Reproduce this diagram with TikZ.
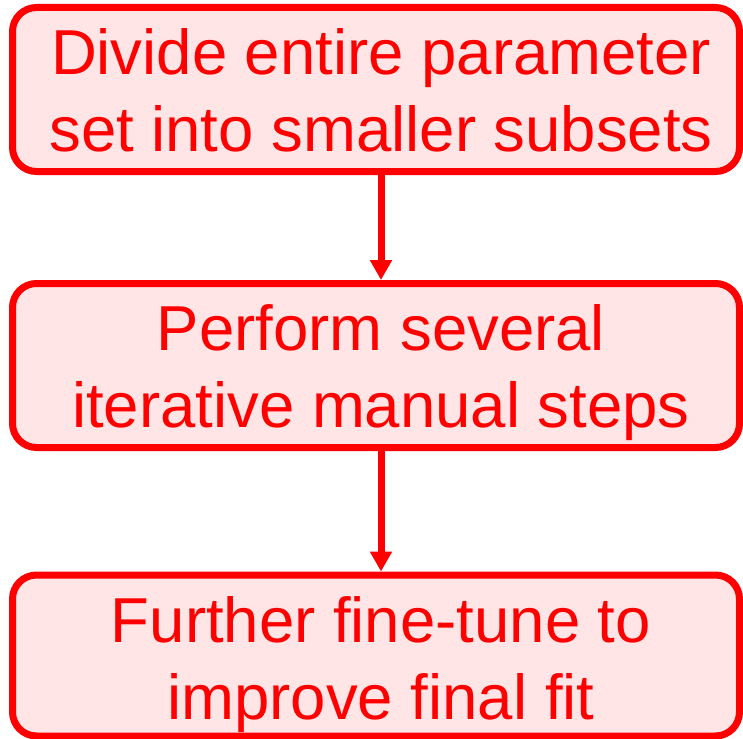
\documentclass[tikz,border=0pt]{standalone}
\usepackage{fontspec}
\setmainfont{Liberation Sans}
\usetikzlibrary{arrows.meta}

\definecolor{stagered}{RGB}{255,0,0}
\definecolor{stagefill}{RGB}{255,229,229}

\begin{document}
\begin{tikzpicture}[
  x=1pt,y=-1pt,
  >={Triangle[width=21pt,length=20pt]},
  stage box/.style={rectangle,rounded corners=24pt,draw=stagered,line width=7pt,fill=stagefill,minimum width=727pt,minimum height=164pt,inner sep=0pt},
  stage text/.style={text=stagered,align=center,inner sep=0pt,font=\fontsize{63.5}{77}\selectfont},
  stage arrow/.style={->,draw=stagered,line width=7pt},
]
\useasboundingbox (0,0) rectangle (743,738);
\node[stage box] (b1) at (376,89.5) {};
\node[stage box] (b2) at (376,365.5) {};
\node[stage box,minimum height=161pt] (b3) at (376,655.5) {};
\node[stage text] (t1) at (381,97.6) {Divide entire parameter\strut\\set into smaller subsets\strut};
\node[stage text] (t2) at (381,373.1) {Perform several\strut\\iterative manual steps\strut};
\node[stage text] (t3) at (381,665.6) {Further fine-tune to\strut\\improve final fit\strut};
\draw[stage arrow] (t1 |- b1.south) -- (t1 |- b2.north);
\draw[stage arrow] (t2 |- b2.south) -- (t2 |- b3.north);
\end{tikzpicture}
\end{document}
